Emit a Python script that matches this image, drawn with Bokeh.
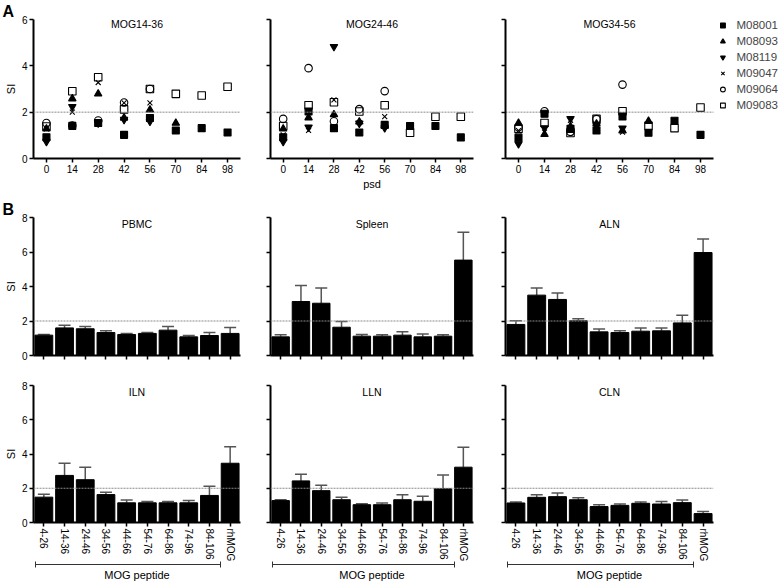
import math
from bokeh.plotting import figure
from bokeh.models import (Range1d, FixedTicker, LinearAxis, Span, Whisker, Title,
                          TeeHead, ColumnDataSource, Label, Legend, LegendItem)
from bokeh.layouts import column, row
from bokeh.embed import file_html
from bokeh.resources import INLINE

nan = float("nan")

# ---------------- Panel A data ----------------
psd_days = [0, 14, 28, 42, 56, 70, 84, 98]
subjects = ["M08001", "M08093", "M08119", "M09047", "M09064", "M09083"]
scatter_titles = ["MOG14-36", "MOG24-46", "MOG34-56"]

mog14_36_M08001 = [0.92, 1.41, 1.53, 1.02, 1.75, 1.21, 1.31, 1.12]
mog14_36_M08093 = [1.28, 2.58, 2.79, 1.75, 2.10, 1.53, nan, nan]
mog14_36_M08119 = [0.73, 2.24, 1.53, 1.68, 1.60, nan, nan, nan]
mog14_36_M09047 = [1.28, 2.00, 3.28, 2.40, 2.40, nan, nan, nan]
mog14_36_M09064 = [1.53, 1.42, 1.64, 2.42, 3.00, nan, nan, nan]
mog14_36_M09083 = [1.38, 2.90, 3.51, 2.12, 3.00, 2.79, 2.72, 3.10]

mog24_46_M08001 = [0.92, 2.03, 1.31, 1.12, 1.45, 1.40, 1.40, 0.91]
mog24_46_M08093 = [1.28, 1.76, 1.90, 1.58, 1.42, 1.38, nan, nan]
mog24_46_M08119 = [0.73, 1.35, 4.83, 1.52, 1.32, nan, nan, nan]
mog24_46_M09047 = [1.02, 1.21, 2.53, 1.55, 1.81, nan, nan, nan]
mog24_46_M09064 = [1.71, 3.90, 1.61, 2.13, 2.91, nan, nan, nan]
mog24_46_M09083 = [1.40, 2.30, 2.43, 2.03, 2.30, 1.11, 1.80, 1.80]

mog34_56_M08001 = [0.90, 1.93, 1.28, 1.21, 1.81, 1.11, 1.63, 1.02]
mog34_56_M08093 = [1.53, 1.04, 1.38, 1.50, 1.20, 1.61, nan, nan]
mog34_56_M08119 = [0.63, 1.32, 1.72, 1.42, 1.31, nan, nan, nan]
mog34_56_M09047 = [1.20, 1.14, 1.65, 1.45, 1.14, nan, nan, nan]
mog34_56_M09064 = [1.35, 2.04, 1.15, 1.70, 3.19, nan, nan, nan]
mog34_56_M09083 = [1.28, 1.53, 1.10, 1.71, 2.04, 1.41, 1.31, 2.20]

scatter_ticks_y = [0, 2, 4, 6]

# ---------------- Panel B data ----------------
peptides = ["4-26", "14-36", "24-46", "34-56", "44-66", "54-76",
            "64-86", "74-96", "84-106", "rhMOG"]
tissues = ["PBMC", "Spleen", "ALN", "ILN", "LLN", "CLN"]

pbmc_si = [1.18, 1.60, 1.55, 1.33, 1.22, 1.28, 1.47, 1.08, 1.16, 1.28]
pbmc_sem = [0.04, 0.15, 0.13, 0.10, 0.06, 0.05, 0.21, 0.08, 0.17, 0.34]
spleen_si = [1.08, 3.13, 3.03, 1.64, 1.12, 1.12, 1.18, 1.08, 1.12, 5.53]
spleen_sem = [0.12, 0.93, 0.89, 0.33, 0.10, 0.08, 0.19, 0.16, 0.08, 1.62]
aln_si = [1.80, 3.50, 3.25, 2.01, 1.37, 1.33, 1.41, 1.43, 1.89, 5.97]
aln_sem = [0.21, 0.42, 0.38, 0.12, 0.16, 0.10, 0.19, 0.17, 0.45, 0.79]
iln_si = [1.48, 2.75, 2.50, 1.63, 1.15, 1.15, 1.15, 1.15, 1.58, 3.46]
iln_sem = [0.17, 0.71, 0.73, 0.14, 0.16, 0.08, 0.08, 0.14, 0.54, 0.96]
lln_si = [1.28, 2.43, 1.86, 1.33, 1.04, 1.04, 1.33, 1.24, 1.97, 3.23]
lln_sem = [0.05, 0.39, 0.32, 0.14, 0.06, 0.10, 0.29, 0.29, 0.81, 1.17]
cln_si = [1.14, 1.47, 1.51, 1.33, 0.93, 1.00, 1.12, 1.08, 1.16, 0.52]
cln_sem = [0.06, 0.15, 0.21, 0.12, 0.11, 0.08, 0.08, 0.14, 0.15, 0.12]

bar_ticks_y = [0, 2, 4, 6, 8]
threshold = 2
bracket_label = "MOG peptide"

# ---------------- styling / geometry ----------------
FONT = "Liberation Sans"
COL_W = [252, 236, 290]
COL_L = [33, 18, 17]
COL_R = [12, 15, 65]
ROW_H = [194, 176, 213]
ROW_T = [19, 23, 15]
ROW_B = [36, 15, 60]
A_X0, A_X1 = -7, 105

markers = {
    "M08001": dict(marker="square", fill_color="black", size=7),
    "M08093": dict(marker="triangle", fill_color="black", size=7.5),
    "M08119": dict(marker="inverted_triangle", fill_color="black", size=7.5),
    "M09047": dict(marker="x", fill_color=None, size=7),
    "M09064": dict(marker="circle", fill_color=None, size=7.5),
    "M09083": dict(marker="square", fill_color=None, size=7.5),
}


def style_axis(ax, ticks, show_labels=True):
    ax.ticker = FixedTicker(ticks=ticks)
    ax.axis_line_width = 2
    ax.axis_line_color = "black"
    ax.major_tick_line_width = 1.5
    ax.major_tick_line_color = "black"
    ax.major_tick_out = 4
    ax.major_tick_in = 0
    ax.minor_tick_line_color = None
    ax.major_label_text_font = FONT
    ax.major_label_text_color = "black"
    ax.major_label_standoff = 2
    ax.major_label_text_font_size = "10px"
    if not show_labels:
        ax.major_label_overrides = {t: "" for t in ticks}
    ax.axis_label_text_font = FONT
    ax.axis_label_text_font_size = "11px"
    ax.axis_label_text_font_style = "normal"
    ax.axis_label_text_color = "black"
    ax.axis_label_standoff = 2


def base_fig(ci, ri, x_range, y_range, right=None, span=True):
    p = figure(width=COL_W[ci], height=ROW_H[ri], x_range=x_range, y_range=y_range,
               output_backend="svg", toolbar_location=None,
               min_border_left=COL_L[ci], min_border_right=COL_R[ci] if right is None else right,
               min_border_top=ROW_T[ri], min_border_bottom=ROW_B[ri])
    p.outline_line_color = None
    p.grid.visible = False
    p.background_fill_color = "white"
    p.border_fill_color = "white"
    if span:
        p.add_layout(Span(location=threshold, dimension="width", line_color="#8a8a8a",
                          line_dash="2 1", line_width=1))
    return p


def add_title(p, text, x, y, offset=0):
    p.add_layout(Label(x=x, y=y, text=text, text_align="center", text_baseline="top",
                       text_font=FONT, text_font_size="10.5px", text_color="black",
                       y_offset=offset))


def add_letter(p, text, left):
    p.add_layout(Title(text=text, align="left", offset=-(left - 2), standoff=0,
                       vertical_align="bottom", text_font=FONT, text_font_size="16px",
                       text_font_style="bold", text_color="black"), "above")


# ---------------- Panel A ----------------
scatter_data = [
    [mog14_36_M08001, mog14_36_M08093, mog14_36_M08119, mog14_36_M09047, mog14_36_M09064, mog14_36_M09083],
    [mog24_46_M08001, mog24_46_M08093, mog24_46_M08119, mog24_46_M09047, mog24_46_M09064, mog24_46_M09083],
    [mog34_56_M08001, mog34_56_M08093, mog34_56_M08119, mog34_56_M09047, mog34_56_M09064, mog34_56_M09083],
]

row_a = []
for ci in range(3):
    yr = Range1d(0, 6)
    if ci == 2:
        # frame extends to the right edge so that the legend lives inside it;
        # the data part keeps the same scale as the other two panels
        data_px = COL_W[2] - COL_L[2] - COL_R[2]
        full_px = COL_W[2] - COL_L[2]
        xr = Range1d(A_X0, A_X0 + (A_X1 - A_X0) * full_px / data_px)
        p = base_fig(ci, 0, xr, yr, right=0, span=False)
        p.segment(x0=[A_X0], x1=[A_X1], y0=[threshold], y1=[threshold],
                  line_color="#8a8a8a", line_dash="2 1", line_width=1)
    else:
        xr = Range1d(A_X0, A_X1)
        p = base_fig(ci, 0, xr, yr)
    renderers = []
    for si, subj in enumerate(subjects):
        src = ColumnDataSource(dict(x=psd_days, y=scatter_data[ci][si]))
        m = markers[subj]
        r = p.scatter(x="x", y="y", source=src, marker=m["marker"], size=m["size"],
                      fill_color=m["fill_color"], line_color="black", line_width=1.1)
        renderers.append(r)
    style_axis(p.xaxis[0], psd_days, True)
    p.xaxis.bounds = (A_X0, A_X1)
    style_axis(p.yaxis[0], scatter_ticks_y, ci == 0)
    if ci == 0:
        p.yaxis.axis_label = "SI"
        add_letter(p, "A", COL_L[0])
    if ci == 1:
        p.xaxis.axis_label = "psd"
    add_title(p, scatter_titles[ci], (A_X0 + A_X1) / 2, yr.end, offset=2)
    if ci == 2:
        legend = Legend(items=[LegendItem(label=s, renderers=[r]) for s, r in zip(subjects, renderers)],
                        location="top_right", margin=0, padding=0,
                        spacing=4, label_height=12, glyph_height=12,
                        glyph_width=12, label_standoff=8,
                        label_text_font=FONT, label_text_font_size="11.5px",
                        border_line_color=None, background_fill_alpha=0)
        p.add_layout(legend)
    row_a.append(p)

# ---------------- Panel B ----------------
bar_si = [pbmc_si, spleen_si, aln_si, iln_si, lln_si, cln_si]
bar_sem = [pbmc_sem, spleen_sem, aln_sem, iln_sem, lln_sem, cln_sem]
n_pep = len(peptides)
bar_pos = [i + 0.5 for i in range(n_pep)]          # category slot centres
pep_overrides = {pos: name for pos, name in zip(bar_pos, peptides)}

rows_b = [[], []]
for ti, tissue in enumerate(tissues):
    ri = 1 + ti // 3
    ci = ti % 3
    xr = Range1d(0, n_pep)
    yr = Range1d(0, 8)
    p = base_fig(ci, ri, xr, yr)
    si_vals = bar_si[ti]
    hi_vals = [v + e for v, e in zip(si_vals, bar_sem[ti])]
    src = ColumnDataSource(dict(pos=bar_pos, si=si_vals, hi=hi_vals))
    p.add_layout(Whisker(base="pos", lower="si", upper="hi", source=src, dimension="height",
                         line_color="#555555", line_width=1.5, lower_head=None,
                         upper_head=TeeHead(size=12, line_color="#555555", line_width=1.5)))
    p.vbar(x="pos", top="si", width=0.86, source=src, fill_color="black", line_color="black")
    style_axis(p.xaxis[0], bar_pos, ri == 2)
    if ri == 2:
        p.xaxis.major_label_overrides = pep_overrides
    style_axis(p.yaxis[0], bar_ticks_y, ci == 0)
    if ri == 2:
        p.xaxis.major_label_orientation = "vertical"
        b0 = bar_pos[0] - 0.42
        b1 = bar_pos[-2] + 0.55
        bax = LinearAxis(bounds=(b0, b1))
        style_axis(bax, [b0, b1], False)
        bax.axis_line_width = 1
        bax.axis_line_color = "#333333"
        bax.major_tick_line_width = 1
        bax.major_tick_line_color = "#333333"
        bax.major_tick_in = 3
        bax.major_tick_out = 3
        bax.major_label_standoff = 0
        bax.axis_label = bracket_label
        bax.axis_label_standoff = 1
        p.add_layout(bax, "below")
    if ci == 0:
        p.yaxis.axis_label = "SI"
    if ti == 0:
        add_letter(p, "B", COL_L[0])
    add_title(p, tissue, (xr.start + xr.end) / 2, yr.end, offset=0)
    rows_b[ri - 1].append(p)

layout = column(row(*row_a), row(*rows_b[0]), row(*rows_b[1]))
open("out.html", "w").write(file_html(layout, INLINE))
